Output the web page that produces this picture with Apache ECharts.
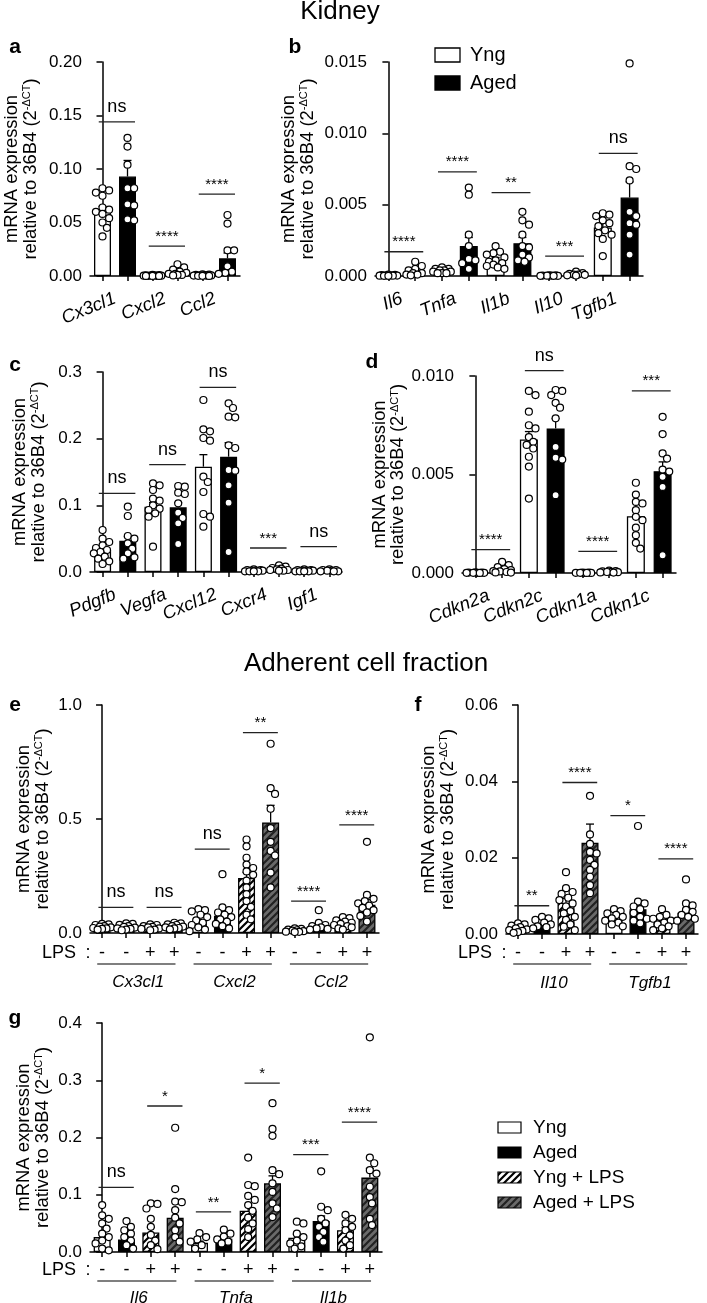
<!DOCTYPE html>
<html><head><meta charset="utf-8">
<script src="https://cdn.jsdelivr.net/npm/echarts@6/dist/echarts.min.js"></script>
<style>html,body{margin:0;padding:0;background:#fff}#c{width:707px;height:1303px}</style>
</head><body><div id="c"></div>
<script>
// ================= DATA =================
// Kidney conditions: Y = Yng, A = Aged ; adherent cells: + YL = Yng + LPS, AL = Aged + LPS
const kidneyConds = ['Y','A'];
const lpsConds = ['Y','A','YL','AL'];

// ---- panel a ----
const aGenes = ['Cx3cl1','Cxcl2','Ccl2'];
const aYTicks = [0, 0.05, 0.10, 0.15, 0.20];
const aMeans = [0.061, 0.093, 0.0004, 0.003, 0.0006, 0.0165];
const aSems  = [0.004, 0.015, 0.0001, 0.001, 0.0001, 0.005];
const aPoints = [
  [0.082,0.080,0.078,0.075,0.064,0.062,0.060,0.058,0.054,0.050,0.045,0.037],
  [0.129,0.121,0.104,0.082,0.082,0.067,0.066,0.053,0.052],
  [0.001,0.0008,0.0006,0.0005,0.0004,0.0003,0.0003,0.0002,0.0002,0.0001,0.0001,0.0001],
  [0.011,0.008,0.006,0.004,0.003,0.002,0.002,0.001,0.001,0.0005],
  [0.0015,0.0012,0.001,0.0008,0.0006,0.0005,0.0004,0.0003,0.0002,0.0002,0.0001],
  [0.057,0.049,0.024,0.024,0.009,0.004,0.003,0.002]
];
const aSig = [[0,1,0.144,'ns'],[2,3,0.028,'****'],[4,5,0.0765,'****']];

// ---- panel b ----
const bGenes = ['Il6','Tnfa','Il1b','Il10','Tgfb1'];
const bYTicks = [0, 0.005, 0.010, 0.015];
const bMeans = [0.00003, 0.0003, 0.00037, 0.0021, 0.0011, 0.0023, 0.00002, 0.0001, 0.0034, 0.0055];
const bSems  = [0.00001, 0.0001, 0.00006, 0.0006, 0.0002, 0.0004, 0.000005, 0.00003, 0.0003, 0.0011];
const bPoints = [
  [0.0001,0.00008,0.00006,0.00005,0.00004,0.00003,0.00002,0.00002,0.00001,0.00001],
  [0.001,0.0007,0.0005,0.0004,0.0002,0.0002,0.0001,0.0001,0.00005],
  [0.0006,0.0005,0.0005,0.0004,0.0004,0.0003,0.0003,0.0002,0.0002,0.0002],
  [0.0062,0.0057,0.0029,0.0021,0.0012,0.0011,0.0009,0.0005],
  [0.0021,0.0017,0.0016,0.0015,0.0013,0.0011,0.001,0.0009,0.0008,0.0007,0.0006,0.0005],
  [0.0045,0.0039,0.0036,0.0029,0.0021,0.002,0.0015,0.0013,0.0011,0.001],
  [0.00005,0.00004,0.00003,0.00002,0.00002,0.00001,0.00001,0.00001],
  [0.0003,0.0002,0.00015,0.0001,0.0001,0.00008,0.00005,0.00003],
  [0.0044,0.0043,0.0042,0.0039,0.0037,0.0035,0.0032,0.003,0.0029,0.0026,0.0014],
  [0.0149,0.0077,0.0075,0.0067,0.0045,0.0042,0.0037,0.0036,0.0029,0.0015]
];
const bSig = [[0,1,0.0017,'****'],[2,3,0.0073,'****'],[4,5,0.00585,'**'],[6,7,0.0014,'***'],[8,9,0.0086,'ns']];

// ---- panel c ----
const cGenes = ['Pdgfb','Vegfa','Cxcl12','Cxcr4','Igf1'];
const cYTicks = [0, 0.1, 0.2, 0.3];
const cMeans = [0.033, 0.047, 0.098, 0.097, 0.158, 0.173, 0.002, 0.004, 0.002, 0.002];
const cSems  = [0.004, 0.006, 0.006, 0.007, 0.018, 0.021, 0.0003, 0.0006, 0.0003, 0.0003];
const cPoints = [
  [0.063,0.050,0.045,0.040,0.036,0.033,0.030,0.028,0.023,0.020,0.016,0.012],
  [0.098,0.084,0.054,0.050,0.043,0.035,0.028,0.022,0.020],
  [0.133,0.130,0.123,0.110,0.107,0.100,0.095,0.093,0.088,0.083,0.038],
  [0.129,0.128,0.119,0.117,0.103,0.089,0.081,0.073,0.042],
  [0.258,0.214,0.211,0.201,0.197,0.143,0.135,0.120,0.087,0.083,0.068],
  [0.253,0.246,0.233,0.232,0.190,0.186,0.153,0.152,0.130,0.104,0.030],
  [0.004,0.003,0.003,0.002,0.002,0.002,0.001,0.001,0.001,0.001],
  [0.010,0.008,0.006,0.005,0.004,0.003,0.003,0.002,0.002],
  [0.004,0.003,0.003,0.002,0.002,0.002,0.001,0.001,0.001,0.001],
  [0.004,0.003,0.003,0.002,0.002,0.001,0.001,0.001]
];
const cSig = [[0,1,0.118,'ns'],[2,3,0.161,'ns'],[4,5,0.277,'ns'],[6,7,0.036,'***'],[8,9,0.038,'ns']];

// ---- panel d ----
const dGenes = ['Cdkn2a','Cdkn2c','Cdkn1a','Cdkn1c'];
const dYTicks = [0, 0.005, 0.010];
const dMeans = [0.00001, 0.0001, 0.00678, 0.00734, 0.00001, 0.00005, 0.00288, 0.00517];
const dSems  = [0.000003, 0.00004, 0.0004, 0.0005, 0.000003, 0.00001, 0.0003, 0.00047];
const dPoints = [
  [0.00003,0.00002,0.00002,0.00001,0.00001,0.00001,0.00001,0.000005],
  [0.00056,0.0004,0.0003,0.0002,0.00015,0.0001,0.00008,0.00005,0.00003,0.00002],
  [0.00924,0.00903,0.00819,0.0075,0.00734,0.0069,0.00666,0.0065,0.00632,0.0059,0.0054,0.00378],
  [0.00929,0.00924,0.00903,0.00864,0.00839,0.00785,0.0064,0.00585,0.00576,0.00395],
  [0.00002,0.00002,0.00001,0.00001,0.00001,0.000005,0.000005],
  [0.00012,0.0001,0.00008,0.00006,0.00005,0.00004,0.00003,0.00002],
  [0.00458,0.00398,0.00361,0.00353,0.00319,0.00285,0.00268,0.0023,0.00192,0.00153,0.00124],
  [0.00793,0.00705,0.00607,0.00581,0.00525,0.00515,0.00488,0.00437,0.0009]
];
const dSig = [[0,1,0.00119,'****'],[2,3,0.01027,'ns'],[4,5,0.0011,'****'],[6,7,0.00925,'***']];

// ---- panel e ----
const eGenes = ['Cx3cl1','Cxcl2','Ccl2'];
const eYTicks = [0, 0.5, 1.0];
const eMeans = [0.026, 0.025, 0.024, 0.030, 0.051, 0.076, 0.241, 0.485, 0.010, 0.029, 0.036, 0.124];
const eSems  = [0.003, 0.003, 0.003, 0.003, 0.009, 0.020, 0.025, 0.075, 0.002, 0.008, 0.004, 0.022];
const ePoints = [
  [0.04,0.038,0.035,0.03,0.028,0.025,0.022,0.02,0.018,0.015],
  [0.042,0.04,0.036,0.03,0.027,0.024,0.02,0.018,0.015,0.012],
  [0.038,0.035,0.03,0.027,0.025,0.02,0.018,0.015,0.012],
  [0.045,0.042,0.038,0.035,0.03,0.028,0.025,0.022,0.02,0.016],
  [0.105,0.100,0.095,0.08,0.07,0.055,0.045,0.035,0.025,0.015,0.008],
  [0.258,0.112,0.1,0.09,0.08,0.07,0.06,0.05,0.04,0.03,0.02],
  [0.41,0.38,0.33,0.30,0.285,0.27,0.255,0.23,0.20,0.17,0.14,0.115,0.08,0.06],
  [0.83,0.635,0.61,0.545,0.46,0.40,0.36,0.34,0.265,0.2],
  [0.02,0.018,0.015,0.012,0.01,0.008,0.006,0.005,0.004],
  [0.10,0.044,0.035,0.03,0.025,0.02,0.018,0.015],
  [0.07,0.065,0.055,0.05,0.045,0.04,0.035,0.03,0.025,0.02,0.015],
  [0.40,0.167,0.15,0.14,0.13,0.12,0.11,0.10,0.09,0.075,0.05]
];
const eSig = [[0,1,0.112,'ns'],[2,3,0.112,'ns'],[4,5,0.368,'ns'],[6,7,0.879,'**'],[8,9,0.140,'****'],[10,11,0.474,'****']];

// ---- panel f ----
const fGenes = ['Il10','Tgfb1'];
const fYTicks = [0, 0.02, 0.04, 0.06];
const fMeans = [0.0015, 0.0024, 0.0082, 0.0239, 0.0037, 0.0065, 0.0030, 0.0056];
const fSems  = [0.0003, 0.0004, 0.0011, 0.0049, 0.0004, 0.0018, 0.0004, 0.0009];
const fPoints = [
  [0.0028,0.0025,0.0022,0.0018,0.0015,0.0012,0.001,0.0008,0.0005,0.0003],
  [0.0045,0.0041,0.0037,0.003,0.0025,0.002,0.0018,0.0015],
  [0.0162,0.012,0.011,0.0105,0.0095,0.0089,0.008,0.0072,0.006,0.0054,0.0045,0.0037,0.0025,0.0019,0.001],
  [0.0362,0.0261,0.0236,0.0215,0.0211,0.0194,0.0181,0.0168,0.015,0.0128,0.0107],
  [0.0065,0.006,0.0054,0.005,0.0045,0.0041,0.0035,0.003,0.0025,0.002],
  [0.0283,0.0085,0.008,0.0072,0.0065,0.0055,0.0045,0.004,0.0035,0.0028],
  [0.0065,0.005,0.0045,0.004,0.0035,0.003,0.0025,0.002,0.0015,0.001],
  [0.0143,0.008,0.0075,0.0063,0.0058,0.005,0.0045,0.004,0.0035]
];
const fSig = [[0,1,0.0074,'**'],[2,3,0.0397,'****'],[4,5,0.031,'*'],[6,7,0.0197,'****']];

// ---- panel g ----
const gGenes = ['Il6','Tnfa','Il1b'];
const gYTicks = [0, 0.1, 0.2, 0.3, 0.4];
const gMeans = [0.026, 0.022, 0.034, 0.060, 0.016, 0.023, 0.072, 0.120, 0.025, 0.054, 0.038, 0.130];
const gSems  = [0.008, 0.005, 0.009, 0.014, 0.003, 0.003, 0.010, 0.013, 0.006, 0.009, 0.005, 0.016];
const gPoints = [
  [0.082,0.064,0.058,0.050,0.041,0.032,0.026,0.020,0.015,0.006,0.003],
  [0.054,0.044,0.038,0.032,0.026,0.020,0.012,0.006],
  [0.085,0.084,0.076,0.058,0.044,0.030,0.020,0.012,0.005],
  [0.217,0.11,0.088,0.087,0.073,0.06,0.05,0.038,0.026,0.018],
  [0.033,0.026,0.022,0.018,0.012,0.006],
  [0.039,0.032,0.027,0.022,0.018,0.015],
  [0.165,0.117,0.115,0.098,0.091,0.082,0.072,0.06,0.05,0.04,0.026],
  [0.26,0.215,0.203,0.143,0.136,0.12,0.105,0.085,0.076,0.061],
  [0.053,0.05,0.032,0.026,0.02,0.015,0.01,0.006],
  [0.141,0.079,0.073,0.058,0.05,0.044,0.035,0.026,0.018],
  [0.065,0.058,0.05,0.044,0.038,0.029,0.02,0.012,0.006],
  [0.375,0.165,0.155,0.143,0.137,0.114,0.096,0.085,0.058,0.047]
];
const gSig = [[0,1,0.113,'ns'],[2,3,0.255,'*'],[4,5,0.070,'**'],[6,7,0.295,'*'],[8,9,0.17,'***'],[10,11,0.227,'****']];

// ================= STYLE / LAYOUT =================
const FONT = '"Liberation Sans", Arial, Helvetica, sans-serif';
const SIGN = {Y:'-', A:'-', YL:'+', AL:'+'};
function hatch(bg, fg){
  const s = 7, c = document.createElement('canvas'); c.width = s; c.height = s;
  const g = c.getContext('2d'); g.fillStyle = bg; g.fillRect(0,0,s,s);
  g.strokeStyle = fg; g.lineWidth = 2.2;
  g.beginPath(); g.moveTo(0,s); g.lineTo(s,0); g.moveTo(-1,1); g.lineTo(1,-1); g.moveTo(s-1,s+1); g.lineTo(s+1,s-1); g.stroke();
  return c;
}
const FILL = {
  Y: '#ffffff', A: '#000000',
  YL: {image: hatch('#ffffff','#000000'), repeat:'repeat'},
  AL: {image: hatch('#6a6a6a','#222222'), repeat:'repeat'}
};

const panels = [
  {L:'a', genes:aGenes, conds:kidneyConds, means:aMeans, sems:aSems, pts:aPoints, sig:aSig, ticks:aYTicks, dec:2, grid:{left:90, top:62, width:150, height:214}, nameGap:50, barW:17, letter:[15,47]},
  {L:'b', genes:bGenes, conds:kidneyConds, means:bMeans, sems:bSems, pts:bPoints, sig:bSig, ticks:bYTicks, dec:3, grid:{left:375, top:62, width:268, height:214}, nameGap:58, barW:18, letter:[295,47]},
  {L:'c', genes:cGenes, conds:kidneyConds, means:cMeans, sems:cSems, pts:cPoints, sig:cSig, ticks:cYTicks, dec:1, grid:{left:90, top:372, width:252, height:200}, nameGap:42, barW:17, letter:[15,365]},
  {L:'d', genes:dGenes, conds:kidneyConds, means:dMeans, sems:dSems, pts:dPoints, sig:dSig, ticks:dYTicks, dec:3, grid:{left:462, top:376, width:214, height:197}, nameGap:52, barW:18, letter:[372,362]},
  {L:'e', genes:eGenes, conds:lpsConds, means:eMeans, sems:eSems, pts:ePoints, sig:eSig, ticks:eYTicks, dec:1, grid:{left:90, top:705, width:289, height:228}, nameGap:38, barW:17, letter:[15,705], lps:true, signMargin:11, geneMargin:41},
  {L:'f', genes:fGenes, conds:lpsConds, means:fMeans, sems:fSems, pts:fPoints, sig:fSig, ticks:fYTicks, dec:2, grid:{left:506, top:705, width:192, height:229}, nameGap:49, barW:17, letter:[418,705], lps:true, signMargin:10, geneMargin:41},
  {L:'g', genes:gGenes, conds:lpsConds, means:gMeans, sems:gSems, pts:gPoints, sig:gSig, ticks:gYTicks, dec:1, grid:{left:90, top:1023, width:292, height:229}, nameGap:38, barW:17, letter:[15,1018], lps:true, signMargin:9, geneMargin:38}
];

// deterministic beeswarm spread (pixel offsets)
function swarm(values, ppu){
  const order = values.map((v,i)=>i).sort((p,q)=>values[q]-values[p]);
  const placed = [], offs = new Array(values.length);
  const D = 6.3, step = 2.2, maxOff = 10;
  const cands = [0];
  for (let k=step; k<=maxOff+1e-9; k+=step) cands.push(k, -k);
  for (const i of order){
    const py = values[i]*ppu;
    let best = 0, bestScore = -Infinity;
    for (const c of cands){
      let md = Infinity;
      for (const p of placed){ const d = Math.hypot(p[0]-c, p[1]-py); if (d < md) md = d; }
      if (md >= D){ best = c; break; }
      if (md > bestScore){ bestScore = md; best = c; }
    }
    placed.push([best, py]); offs[i] = best;
  }
  return offs;
}

const AX = {color:'#000', width:1.5};
const option = {animation:false, backgroundColor:'#fff', textStyle:{fontFamily:FONT, color:'#000'},
  grid:[], xAxis:[], yAxis:[], series:[], graphic:[]};

function txt(x, y, text, size, opts){
  return Object.assign({type:'text', x:x, y:y, silent:true, style:Object.assign({text:text, fill:'#000', fontSize:size, fontFamily:FONT,
    align:'center', verticalAlign:'middle', textAlign:'center', textVerticalAlign:'middle'}, opts||{})});
}

panels.forEach((P,k)=>{
  const C = P.conds.length, N = P.genes.length*C;
  const yMax = P.ticks[P.ticks.length-1], yStep = P.ticks[1]-P.ticks[0];
  const slot = P.grid.width/N, ppu = P.grid.height/yMax;
  option.grid.push({left:P.grid.left, top:P.grid.top, width:P.grid.width, height:P.grid.height, containLabel:false, outerBoundsMode:'none'});
  option.xAxis.push({type:'value', gridIndex:k, min:-0.5, max:N-0.5, show:false, position:'top'});
  option.xAxis.push({type:'category', gridIndex:k, position:'bottom', data:Array.from({length:N},(_,i)=>String(i)), boundaryGap:true,
    axisLine:{show:true, lineStyle:AX}, axisTick:{show:true, alignWithLabel:true, interval:0, length:5, lineStyle:AX},
    axisLabel: P.lps ? {show:true, interval:0, margin:P.signMargin, fontSize:18, color:'#000', fontFamily:FONT,
                        formatter:(v,i)=>SIGN[P.conds[i%C]]} : {show:false},
    splitLine:{show:false}});
  option.xAxis.push({type:'category', gridIndex:k, position:'bottom', data:P.genes, boundaryGap:true,
    axisLine:{show:false}, axisTick:{show:false}, splitLine:{show:false},
    axisLabel: P.lps ? {interval:0, margin:P.geneMargin, fontSize:17, fontStyle:'italic', color:'#000', fontFamily:FONT}
                     : {interval:0, rotate:22, margin:22, fontSize:18.5, fontStyle:'italic', color:'#000', fontFamily:FONT}});
  option.yAxis.push({type:'value', gridIndex:k, min:0, max:yMax, interval:yStep,
    axisLine:{show:true, lineStyle:AX}, axisTick:{show:true, length:6, lineStyle:AX}, splitLine:{show:false},
    axisLabel:{fontSize:17, color:'#000', margin:8, fontFamily:FONT, formatter:v=>v.toFixed(P.dec)},
    name:'mRNA expression\nrelative to 36B4 (2{sup|-ΔCT})', nameLocation:'middle', nameRotate:90, nameGap:P.nameGap,
    nameTextStyle:{fontSize:18.4, lineHeight:18.5, color:'#000', fontFamily:FONT,
      rich:{sup:{fontSize:11, lineHeight:18.5, verticalAlign:'top', fontFamily:FONT, color:'#000'}}}});
  const xi = 3*k;
  // bars
  option.series.push({type:'bar', xAxisIndex:xi, yAxisIndex:k, barWidth:P.barW, silent:true, z:2,
    itemStyle:{borderColor:'#000', borderWidth:1.3},
    data:P.means.map((m,i)=>({value:[i,m], itemStyle:{color:FILL[P.conds[i%C]]}}))});
  // error bars (mean -> mean+SEM, with cap)
  option.series.push({type:'custom', xAxisIndex:xi, yAxisIndex:k, silent:true, z:3,
    dimensions:['x','m','s'], encode:{x:0, y:1},
    data:P.means.map((m,i)=>[i, m, P.sems[i]]),
    renderItem:(params, api)=>{
      const x = api.value(0), m = api.value(1), s = api.value(2);
      const p0 = api.coord([x,m]), p1 = api.coord([x,m+s]);
      return {type:'group', children:[
        {type:'line', shape:{x1:p0[0], y1:p0[1], x2:p1[0], y2:p1[1]}, style:{stroke:'#000', lineWidth:1.3}},
        {type:'line', shape:{x1:p1[0]-4, y1:p1[1], x2:p1[0]+4, y2:p1[1]}, style:{stroke:'#000', lineWidth:1.3}}]};
    }});
  // individual points
  const sc = [];
  P.pts.forEach((arr,i)=>{ const o = swarm(arr, ppu); arr.forEach((v,j)=>sc.push([i + o[j]/slot, v])); });
  option.series.push({type:'scatter', xAxisIndex:xi, yAxisIndex:k, silent:true, z:4, symbol:'circle', symbolSize:7,
    itemStyle:{color:'#fff', borderColor:'#000', borderWidth:1.2, opacity:1}, data:sc});
  // significance lines
  option.series.push({type:'custom', xAxisIndex:xi, yAxisIndex:k, silent:true, z:5,
    dimensions:['x1','x2','y'], encode:{x:[0,1], y:2},
    data:P.sig.map(s=>[s[0]-0.15, s[1]+0.3, s[2]]),
    renderItem:(params, api)=>{
      const lab = P.sig[params.dataIndex][3], star = lab.indexOf('*') >= 0;
      const a = api.coord([api.value(0), api.value(2)]), b = api.coord([api.value(1), api.value(2)]);
      return {type:'group', children:[
        {type:'line', shape:{x1:a[0], y1:a[1], x2:b[0], y2:b[1]}, style:{stroke:'#222', lineWidth:1.3}},
        {type:'text', x:(a[0]+b[0])/2, y:a[1] - (star ? 9.5 : 15),
         style:{text:lab, fontSize:star?15:18, fontFamily:FONT, fill:'#000', align:'center', verticalAlign:'middle', textAlign:'center', textVerticalAlign:'middle'}}]};
    }});
  if (P.lps){
    // group underlines below the LPS row
    option.series.push({type:'custom', xAxisIndex:xi, yAxisIndex:k, silent:true, z:5, clip:false,
      dimensions:['x1','x2'], encode:{x:[0,1]},
      data:P.genes.map((g,gi)=>[gi*C-0.2, gi*C+C-1+0.05]),
      renderItem:(params, api)=>{
        const a = api.coord([api.value(0), 0]), b = api.coord([api.value(1), 0]);
        const y = a[1] + P.signMargin + 20;
        return {type:'line', shape:{x1:a[0], y1:y, x2:b[0], y2:y}, style:{stroke:'#555', lineWidth:1.3}};
      }});
    const yL = P.grid.top + P.grid.height + P.signMargin + 9;
    option.graphic.push(txt(P.grid.left-14, yL, 'LPS', 18, {align:'right', textAlign:'right'}));
    option.graphic.push(txt(P.grid.left-2, yL, ':', 18));
  }
  option.graphic.push(txt(P.letter[0], P.letter[1], P.L, 21, {fontWeight:'bold'}));
});

// titles
option.graphic.push(txt(340, 12, 'Kidney', 26));
option.graphic.push(txt(366, 664, 'Adherent cell fraction', 26));

// legend in panel b
[['Y','Yng',48],['A','Aged',76]].forEach(r=>{
  option.graphic.push({type:'rect', silent:true, shape:{x:435, y:r[2], width:25, height:14}, style:{fill:FILL[r[0]], stroke:'#000', lineWidth:1.3}});
  option.graphic.push(txt(470, r[2]+7, r[1], 20, {align:'left', textAlign:'left'}));
});
// legend for e-g
[['Y','Yng'],['A','Aged'],['YL','Yng + LPS'],['AL','Aged + LPS']].forEach((r,i)=>{
  const y = 1122 + i*25;
  option.graphic.push({type:'rect', silent:true, shape:{x:498, y:y, width:23, height:11}, style:{fill:FILL[r[0]], stroke:'#000', lineWidth:1.2}});
  option.graphic.push(txt(533, y+5.5, r[1], 19, {align:'left', textAlign:'left'}));
});

const chart = echarts.init(document.getElementById('c'), null, {renderer:'canvas', width:707, height:1303});
chart.setOption(option);
</script></body></html>
